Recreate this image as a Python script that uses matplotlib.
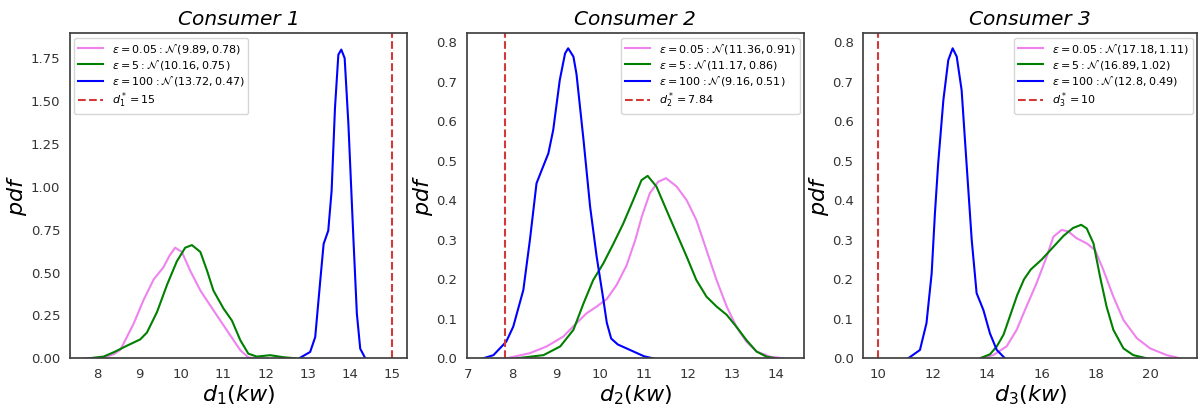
import matplotlib
matplotlib.use("Agg")
import matplotlib.pyplot as plt

# Consumer 1
c1_x_low = [7.7, 8.0, 8.2, 8.4, 8.55, 8.86, 9.10, 9.34, 9.57, 9.72, 9.85, 10.01, 10.21, 10.45, 10.76, 11.08, 11.40, 11.59, 11.8]
c1_y_low = [0.0, 0.002, 0.008, 0.025, 0.05, 0.20, 0.34, 0.46, 0.53, 0.60, 0.645, 0.62, 0.51, 0.395, 0.28, 0.163, 0.047, 0.005, 0.0]
c1_x_mid = [7.8, 8.15, 8.39, 8.71, 9.02, 9.18, 9.42, 9.66, 9.89, 10.09, 10.25, 10.45, 10.61, 10.76, 11.0, 11.2, 11.40, 11.59, 11.79, 12.11, 12.43, 12.7]
c1_y_mid = [0.0, 0.01, 0.035, 0.074, 0.11, 0.15, 0.27, 0.43, 0.565, 0.645, 0.66, 0.62, 0.51, 0.395, 0.29, 0.22, 0.105, 0.027, 0.01, 0.018, 0.006, 0.0]
c1_x_high = [12.8, 13.06, 13.18, 13.30, 13.38, 13.49, 13.57, 13.65, 13.73, 13.80, 13.88, 13.97, 14.09, 14.17, 14.25, 14.37]
c1_y_high = [0.0, 0.037, 0.124, 0.453, 0.667, 0.744, 0.977, 1.46, 1.77, 1.80, 1.75, 1.36, 0.686, 0.26, 0.056, 0.0]

# Consumer 2
c2_x_low = [7.87, 8.4, 8.78, 9.16, 9.46, 9.69, 9.92, 10.15, 10.37, 10.6, 10.8, 10.95, 11.13, 11.32, 11.5, 11.74, 11.97, 12.19, 12.42, 12.65, 12.88, 13.1, 13.33, 13.56, 13.87, 14.17]
c2_y_low = [0.0, 0.013, 0.03, 0.055, 0.089, 0.114, 0.131, 0.15, 0.185, 0.235, 0.30, 0.36, 0.418, 0.447, 0.456, 0.435, 0.40, 0.35, 0.274, 0.198, 0.131, 0.08, 0.042, 0.017, 0.004, 0.0]
c2_x_mid = [8.1, 8.71, 9.09, 9.39, 9.62, 9.84, 10.07, 10.3, 10.52, 10.75, 10.94, 11.08, 11.28, 11.51, 11.74, 11.97, 12.19, 12.42, 12.65, 12.88, 13.1, 13.33, 13.56, 13.79, 14.0]
c2_y_mid = [0.0, 0.008, 0.03, 0.072, 0.139, 0.198, 0.24, 0.29, 0.34, 0.40, 0.451, 0.462, 0.435, 0.375, 0.316, 0.257, 0.198, 0.156, 0.131, 0.11, 0.08, 0.046, 0.017, 0.004, 0.0]
c2_x_high = [7.34, 7.57, 7.86, 8.02, 8.25, 8.40, 8.55, 8.67, 8.82, 8.93, 9.08, 9.20, 9.27, 9.39, 9.46, 9.62, 9.77, 9.92, 10.0, 10.07, 10.15, 10.25, 10.4, 10.6, 10.8, 11.0, 11.2]
c2_y_high = [0.0, 0.008, 0.042, 0.08, 0.173, 0.30, 0.443, 0.477, 0.519, 0.578, 0.705, 0.772, 0.785, 0.764, 0.72, 0.553, 0.384, 0.257, 0.20, 0.15, 0.09, 0.05, 0.035, 0.025, 0.015, 0.005, 0.0]

# Consumer 3
c3_x_low = [13.73, 14.22, 14.71, 15.08, 15.44, 15.81, 16.18, 16.43, 16.73, 16.98, 17.28, 17.65, 17.96, 18.26, 18.63, 19.0, 19.49, 19.98, 20.59, 21.08]
c3_y_low = [0.0, 0.008, 0.03, 0.072, 0.131, 0.19, 0.257, 0.308, 0.325, 0.321, 0.304, 0.291, 0.274, 0.224, 0.156, 0.097, 0.051, 0.025, 0.008, 0.0]
c3_x_mid = [13.73, 14.1, 14.35, 14.6, 14.85, 15.1, 15.35, 15.6, 16.0, 16.4, 16.8, 17.15, 17.45, 17.65, 17.9, 18.14, 18.38, 18.63, 19.0, 19.36, 19.85]
c3_y_mid = [0.0, 0.01, 0.03, 0.06, 0.11, 0.16, 0.20, 0.225, 0.25, 0.28, 0.31, 0.33, 0.338, 0.329, 0.291, 0.207, 0.131, 0.072, 0.025, 0.008, 0.0]
c3_x_high = [11.10, 11.53, 11.77, 11.96, 12.08, 12.20, 12.39, 12.57, 12.73, 12.88, 13.06, 13.24, 13.43, 13.61, 13.86, 14.10, 14.35, 14.65]
c3_y_high = [0.0, 0.021, 0.089, 0.215, 0.367, 0.494, 0.654, 0.755, 0.785, 0.764, 0.679, 0.494, 0.30, 0.165, 0.122, 0.063, 0.021, 0.0]

titles = ["Consumer 1", "Consumer 2", "Consumer 3"]
d_star = [15, 7.84, 10]
params = [
    [("0.05", "9.89, 0.78"), ("5", "10.16, 0.75"), ("100", "13.72, 0.47")],
    [("0.05", "11.36, 0.91"), ("5", "11.17, 0.86"), ("100", "9.16, 0.51")],
    [("0.05", "17.18, 1.11"), ("5", "16.89, 1.02"), ("100", "12.8, 0.49")],
]
curves = [
    [(c1_x_low, c1_y_low), (c1_x_mid, c1_y_mid), (c1_x_high, c1_y_high)],
    [(c2_x_low, c2_y_low), (c2_x_mid, c2_y_mid), (c2_x_high, c2_y_high)],
    [(c3_x_low, c3_y_low), (c3_x_mid, c3_y_mid), (c3_x_high, c3_y_high)],
]
colors = ["violet", "green", "blue"]
xlims = [(7.35, 15.36), (6.96, 14.64), (9.45, 21.7)]
ylims = [(0, 1.895), (0, 0.823), (0, 0.823)]
xticks = [range(8, 16), range(7, 15), range(10, 21, 2)]
yticks = [[0, 0.25, 0.5, 0.75, 1.0, 1.25, 1.5, 1.75], [i / 10 for i in range(9)], [i / 10 for i in range(9)]]
yfmt = ["{:.2f}", "{:.1f}", "{:.1f}"]
legend_loc = ["upper left", "upper right", "upper right"]
positions = [[0.0583, 0.1197, 0.2808, 0.7985],
             [0.3889, 0.1197, 0.2811, 0.7985],
             [0.7194, 0.1197, 0.2781, 0.7985]]

fig = plt.figure(figsize=(12, 4.07), dpi=100)

for i in range(3):
    ax = fig.add_axes(positions[i])
    for (xs, ys), c, (eps, norm) in zip(curves[i], colors, params[i]):
        ax.plot(xs, ys, color=c, lw=1.5,
                label=r"$\varepsilon = %s: \mathcal{N}\,(%s)$" % (eps, norm))
    ax.axvline(d_star[i], color="#d23a3a", ls="--", lw=1.5,
               label=r"$d_{%d}^* = %s$" % (i + 1, d_star[i]))
    ax.set_xlim(*xlims[i])
    ax.set_ylim(*ylims[i])
    ax.set_xticks(list(xticks[i]))
    ax.set_yticks(yticks[i])
    ax.set_yticklabels([yfmt[i].format(v) for v in yticks[i]])
    ax.tick_params(length=0, pad=7, labelsize=9.5, labelcolor="#333333")
    for s in ax.spines.values():
        s.set_color("#404040")
        s.set_linewidth(1.25)
    ax.set_title(titles[i], fontsize=14.5, style="italic", pad=6)
    ax.set_xlabel(r"$d_{%d}(kw)$" % (i + 1), fontsize=16, labelpad=2)
    ax.set_ylabel(r"$pdf$", fontsize=16, labelpad=1)
    leg = ax.legend(loc=legend_loc[i], fontsize=8, frameon=True, framealpha=0.8,
                    borderpad=0.35, labelspacing=0.2, handlelength=2.2,
                    borderaxespad=0.4)
    leg.get_frame().set_edgecolor("#cccccc")

fig.savefig("out.png", dpi=100)
